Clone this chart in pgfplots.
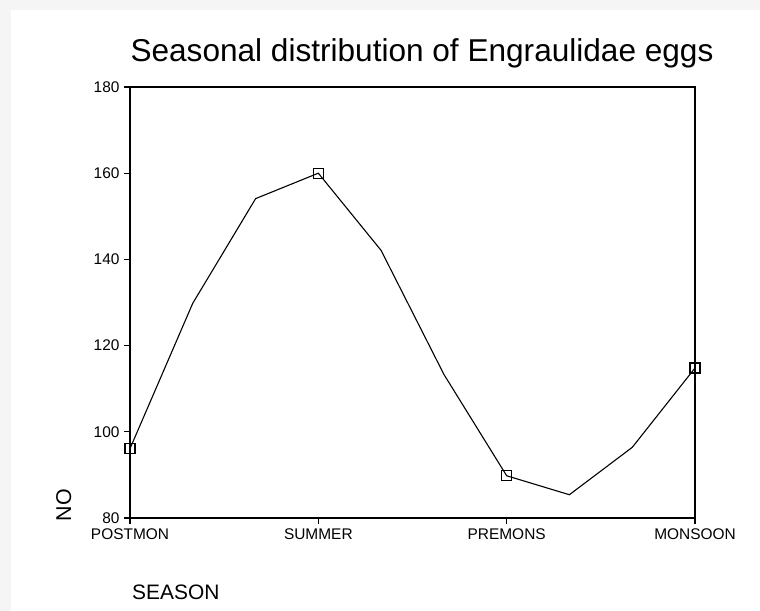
\documentclass[border=0pt]{standalone}
\usepackage{pgfplots}
\pgfplotsset{compat=1.18}
\usepackage{fontspec}
\setmainfont{Liberation Sans}
\begin{document}
\begin{tikzpicture}[x=1bp,y=1bp]
\fill[black!4] (0,0) rectangle (760,611);
\fill[white] (11,0) rectangle (760,601);
\begin{axis}[
  at={(130bp,93bp)}, anchor=south west,
  scale only axis, width=565bp, height=431bp,
  xmin=0, xmax=3, ymin=80, ymax=180,
  xtick={0,1,2,3},
  xticklabels={POSTMON,SUMMER,PREMONS,MONSOON},
  ytick={80,100,120,140,160,180},
  /pgf/number format/assume math mode=true,
  tick label style={font=\fontsize{15.5}{18}\selectfont},
  xtick pos=bottom, ytick pos=left,
  tick align=outside,
  major tick length=6bp,
  axis line style={line width=1.6bp},
  major tick style={line width=1.3bp, black},
  xticklabel style={yshift=-1bp},
  yticklabel style={xshift=-1bp},
  clip=false,
]
\addplot[black, line width=1.1bp, mark=none] coordinates {
  (0,96.1) (0.333,129.8) (0.667,154.1) (1,160) (1.333,142.1)
  (1.667,113.3) (2,89.8) (2.333,85.4) (2.667,96.4) (3,114.8)
};
\addplot[only marks, mark=square, mark size=5bp, mark options={black, line width=1.1bp, fill=none}] coordinates {
  (0,96.1) (1,160) (2,89.8) (3,114.8)
};
\end{axis}
\node[anchor=base, font=\fontsize{31.7}{38}\selectfont] at (422,549) {Seasonal distribution of Engraulidae eggs};
\node[anchor=base west, font=\fontsize{21}{26}\selectfont, inner sep=0pt] at (132,11) {SEASON};
\node[rotate=90, anchor=base, font=\fontsize{21.5}{26}\selectfont, inner sep=0pt] at (71,106) {NO};
\end{tikzpicture}
\end{document}
